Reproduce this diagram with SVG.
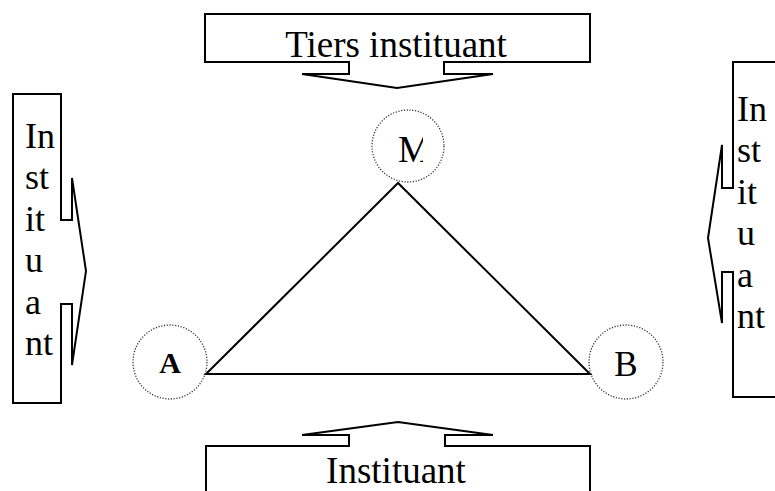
<svg xmlns="http://www.w3.org/2000/svg" width="775" height="491" viewBox="0 0 775 491">
<style>
.shape{fill:#fff;stroke:#000;stroke-width:2;stroke-linejoin:miter}
.circ{fill:none;stroke:#333;stroke-width:1.3;stroke-dasharray:1.2 1.6}
.t{font-family:"Liberation Serif","Times New Roman",serif;fill:#000}
.big{font-size:37px}
.side{font-size:36px}
</style>
<defs>
<clipPath id="mclip"><rect x="390" y="120" width="33" height="50"/></clipPath>
</defs>
<rect width="775" height="491" fill="#fff"/>
<g id="connectors">
<polygon class="shape" points="398,183 206,374 590,374" style="fill:none"/>
</g>
<g id="node-tiers">
<path class="shape" d="M205,14 H590 V62 H444 V74 H493 L397,88 L302,74 H349 V62 H205 Z"/>
<text class="t big" x="396" y="57" text-anchor="middle">Tiers instituant</text>
</g>
<g id="node-instituant-bottom">
<path class="shape" d="M206,495 V446 H349 V435 H302 L398,422 L493,435 H445 V446 H590 V495"/>
<text class="t big" x="396" y="483" text-anchor="middle">Instituant</text>
</g>
<g id="node-instituant-left">
<path class="shape" d="M13,94 H61 V220 H72 V178 L86,271 L72,365 V304 H61 V403 H13 Z"/>
<text class="t side" x="25"><tspan x="25" y="148">In</tspan><tspan x="25" y="189">st</tspan><tspan x="25" y="231">it</tspan><tspan x="25" y="272">u</tspan><tspan x="25" y="314">a</tspan><tspan x="25" y="355">nt</tspan></text>
</g>
<g id="node-instituant-right">
<path class="shape" d="M790,62 H733 V188 H722 V145 L708,238 L722,323 V272 H733 V397 H790"/>
<text class="t side" x="737"><tspan x="737" y="121">In</tspan><tspan x="737" y="162">st</tspan><tspan x="737" y="204">it</tspan><tspan x="737" y="245">u</tspan><tspan x="737" y="287">a</tspan><tspan x="737" y="328">nt</tspan></text>
</g>
<g id="node-M">
<circle class="circ" cx="408" cy="146" r="36"/>
<text class="t" x="398" y="162" font-size="37" clip-path="url(#mclip)">M</text>
</g>
<g id="node-A">
<circle class="circ" cx="170" cy="362" r="37"/>
<text class="t" x="170" y="373" font-size="30" font-weight="bold" text-anchor="middle">A</text>
</g>
<g id="node-B">
<circle class="circ" cx="626" cy="362" r="37"/>
<text class="t" x="626" y="376" font-size="35" text-anchor="middle">B</text>
</g>
</svg>
